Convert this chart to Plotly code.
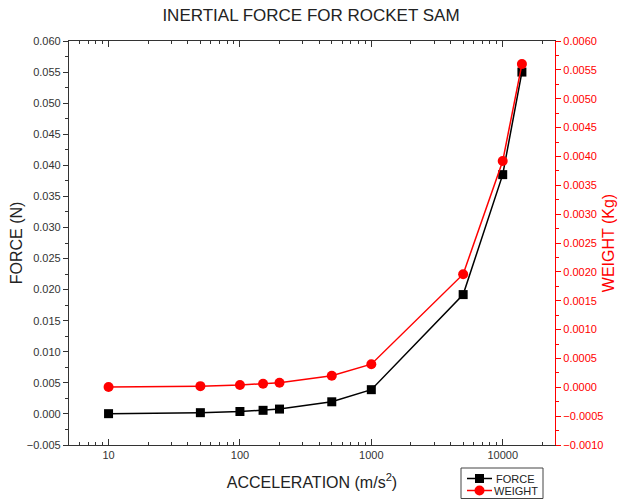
import plotly.graph_objects as go

acceleration = [10, 50, 100, 150, 200, 500, 1000, 5000, 10000, 14000]
force = [0.00004, 0.0002, 0.00039, 0.00058, 0.00078, 0.00195, 0.0039, 0.0192, 0.0385, 0.0550]
weight = [0.000004, 0.00002, 0.00004, 0.00006, 0.00008, 0.0002, 0.0004, 0.00196, 0.00392, 0.0056]
series_names = ["FORCE", "WEIGHT"]

x_tickvals = [10, 100, 1000, 10000]
x_ticktext = ["10", "100", "1000", "10000"]

FONT = "Liberation Sans, Arial, sans-serif"
RED = "#ff0000"
W, H = 622, 499
ML, MR, MT, MB = 69, 67, 41, 54
PW, PH = W - ML - MR, H - MT - MB


def px(x):
    return (x - ML) / PW


def py(y):
    return (H - MB - y) / PH


fig = go.Figure()
fig.add_trace(go.Scatter(
    x=acceleration, y=force, name=series_names[0], mode="lines+markers",
    line=dict(color="black", width=1.5),
    marker=dict(symbol="square", size=9, color="black"),
    yaxis="y",
))
fig.add_trace(go.Scatter(
    x=acceleration, y=weight, name=series_names[1], mode="lines+markers",
    line=dict(color=RED, width=1.5),
    marker=dict(symbol="circle", size=10, color=RED),
    yaxis="y2",
))

# Legend drawn as a boxed key below the plot (compact, like the reference)
shapes = [
    dict(type="rect", xref="paper", yref="paper", x0=px(461), x1=px(543), y0=py(468), y1=py(498.5),
         line=dict(color="#444444", width=1), fillcolor="white", layer="above"),
    dict(type="line", xref="paper", yref="paper", x0=px(467), x1=px(492), y0=py(478.5), y1=py(478.5),
         line=dict(color="black", width=1.5)),
    dict(type="rect", xref="paper", yref="paper", x0=px(475), x1=px(484), y0=py(474), y1=py(483),
         line=dict(color="black", width=0), fillcolor="black"),
    dict(type="line", xref="paper", yref="paper", x0=px(467), x1=px(492), y0=py(490.5), y1=py(490.5),
         line=dict(color=RED, width=1.5)),
    dict(type="circle", xref="paper", yref="paper", x0=px(474.5), x1=px(484.5), y0=py(485.5), y1=py(495.5),
         line=dict(color=RED, width=0), fillcolor=RED),
]
annotations = [
    dict(text=series_names[0], xref="paper", yref="paper", x=px(494), y=py(478.5),
         xanchor="left", yanchor="middle", showarrow=False, font=dict(size=11, color="#222222")),
    dict(text=series_names[1], xref="paper", yref="paper", x=px(492), y=py(490.5),
         xanchor="left", yanchor="middle", showarrow=False, font=dict(size=11, color="#222222")),
]

fig.update_layout(
    width=W, height=H,
    margin=dict(l=ML, r=MR, t=MT, b=MB, autoexpand=False),
    paper_bgcolor="white", plot_bgcolor="white",
    font=dict(family=FONT, size=11, color="#333333"),
    title=dict(text="INERTIAL FORCE FOR ROCKET SAM", x=0.5, xanchor="center",
               y=0.97, yanchor="middle", font=dict(size=17, color="#222222")),
    xaxis=dict(
        type="log", range=[0.699, 4.398],
        tickvals=x_tickvals, ticktext=x_ticktext,
        showgrid=False, zeroline=False,
        showline=True, linecolor="#333333", linewidth=1.2, mirror="ticks",
        ticks="inside", ticklen=6, tickcolor="#333333", tickwidth=1,
        minor=dict(ticks="inside", ticklen=3, dtick="D1", tickcolor="#333333", showgrid=False),
        tickfont=dict(size=11, color="#333333"),
        title=dict(text="ACCELERATION (m/s<sup>2</sup>)", font=dict(size=16, color="#222222"), standoff=16),
    ),
    yaxis=dict(
        range=[-0.005, 0.060], dtick=0.005, tickformat=".3f",
        showgrid=False, zeroline=False,
        showline=True, linecolor="#333333", linewidth=1.2, mirror=False,
        ticks="outside", ticklen=5, tickcolor="#333333",
        minor=dict(ticks="outside", ticklen=3, dtick=0.0025, tickcolor="#333333", showgrid=False),
        tickfont=dict(size=11, color="#333333"),
        title=dict(text="FORCE (N)", font=dict(size=16, color="#222222"), standoff=0),
    ),
    yaxis2=dict(
        overlaying="y", side="right",
        range=[-0.001, 0.006], dtick=0.0005, tickformat=".4f",
        showgrid=False, zeroline=False,
        showline=True, linecolor=RED, linewidth=1.2,
        ticks="outside", ticklen=5, tickcolor=RED,
        minor=dict(ticks="outside", ticklen=3, dtick=0.00025, tickcolor=RED, showgrid=False),
        tickfont=dict(size=11, color=RED),
        title=dict(text="WEIGHT (Kg)", font=dict(size=16, color=RED), standoff=0),
    ),
    shapes=shapes,
    annotations=annotations,
    showlegend=False,
)

fig.write_html("out.html", config={"displayModeBar": False},
               post_script="document.body.style.margin='0';")
